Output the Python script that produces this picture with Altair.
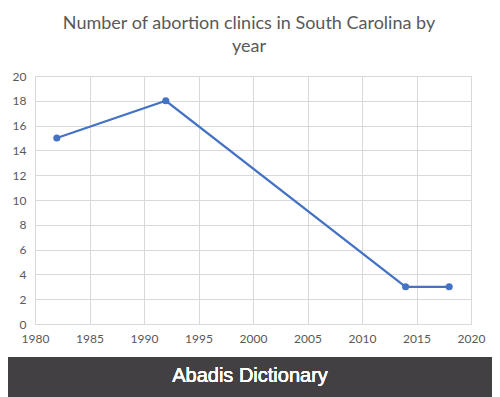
import altair as alt
import pandas as pd

years = [1982, 1992, 2014, 2018]
clinics = [15, 18, 3, 3]
x_ticks = [1980, 1985, 1990, 1995, 2000, 2005, 2010, 2015, 2020]
y_ticks = [0, 2, 4, 6, 8, 10, 12, 14, 16, 18, 20]
title_lines = ["Number of abortion clinics in South Carolina by", "year"]
banner_text = "Abadis Dictionary"

df = pd.DataFrame({"year": years, "clinics": clinics})

W, H = 436, 248
FONT = "Lato"
GRAY = "#595959"

x = alt.X("year:Q", scale=alt.Scale(domain=[1980, 2020], nice=False, zero=False),
          axis=alt.Axis(values=x_ticks, format="d", title=None, ticks=False,
                        domainColor="#d9d9d9", gridColor="#d9d9d9", labelColor=GRAY,
                        labelFont=FONT, labelFontSize=12, labelPadding=9, labelFlush=False))
y = alt.Y("clinics:Q", scale=alt.Scale(domain=[0, 20], nice=False),
          axis=alt.Axis(values=y_ticks, title=None, ticks=False, domain=False,
                        gridColor="#d9d9d9", labelColor=GRAY, labelFont=FONT,
                        labelFontSize=12, labelPadding=9))

line = alt.Chart(df).mark_line(color="#4472c4", strokeWidth=2.25, point=alt.OverlayMarkDef(
    filled=True, size=50, color="#4472c4", opacity=1)).encode(x=x, y=y)

banner = alt.Chart(df).mark_rect(color="#424042", clip=False).encode(
    x=alt.value(-27), x2=alt.value(W + 30), y=alt.value(281), y2=alt.value(330))

banner_txt = alt.Chart(df).mark_text(text=banner_text, color="white", font="Liberation Sans",
                                      fontSize=20, fontWeight="normal", baseline="middle",
                                      align="center", clip=False).encode(
    x=alt.value(215), y=alt.value(300))

chart = alt.layer(line, banner, banner_txt).properties(
    width=W, height=H,
    title=alt.TitleParams(title_lines, font=FONT, fontSize=18, fontWeight="normal",
                          color=GRAY, anchor="middle", offset=14, lineHeight=23, dx=-4),
    autosize=alt.AutoSizeParams(type="none"),
    padding={"left": 27, "top": 68, "right": 21, "bottom": 73},
).configure_view(stroke=None).configure(background="white")

chart.save("out.html", embed_options={"renderer": "svg", "actions": False})
